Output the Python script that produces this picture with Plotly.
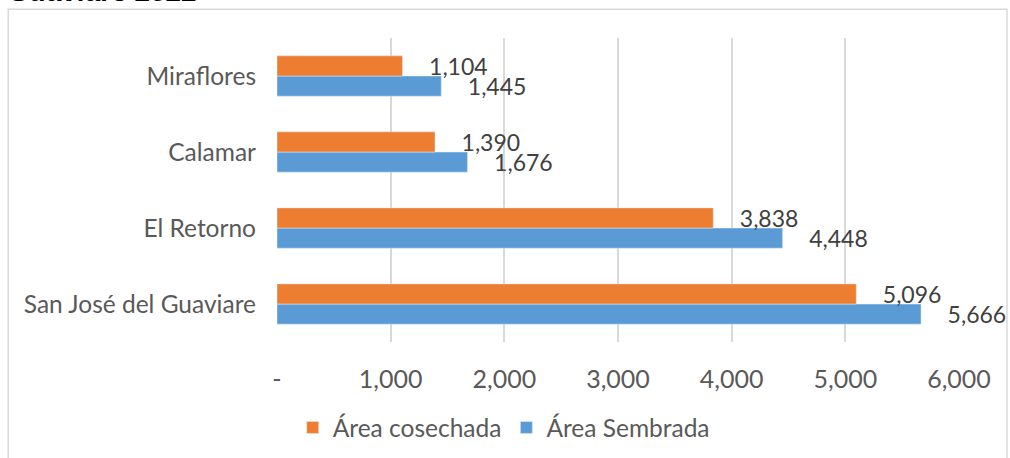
import plotly.graph_objects as go

# municipios (de abajo hacia arriba)
municipios = ["San José del Guaviare", "El Retorno", "Calamar", "Miraflores"]
area_sembrada = [5666, 4448, 1676, 1445]
area_cosechada = [5096, 3838, 1390, 1104]

tick_vals = [0, 1000, 2000, 3000, 4000, 5000, 6000]
tick_text = ["-", "1,000", "2,000", "3,000", "4,000", "5,000", "6,000"]

pad = "\u00a0\u00a0\u00a0\u00a0"

fig = go.Figure()
fig.add_trace(go.Bar(
    y=municipios, x=area_sembrada, orientation="h", name="Área Sembrada",
    marker_color="#5B9BD5",
    text=[pad + f"{v:,}" for v in area_sembrada], textposition="outside",
    textfont=dict(size=23, color="#404040"), cliponaxis=False, constraintext="none",
))
fig.add_trace(go.Bar(
    y=municipios, x=area_cosechada, orientation="h", name="Área cosechada",
    marker_color="#ED7D31",
    text=[pad + f"{v:,}" for v in area_cosechada], textposition="outside",
    textfont=dict(size=23, color="#404040"), cliponaxis=False, constraintext="none",
))

fig.update_layout(
    width=1010, height=458,
    margin=dict(l=277, r=51, t=38, b=114),
    paper_bgcolor="white", plot_bgcolor="white",
    font=dict(family="Lato", size=24, color="#595959"),
    barmode="group", bargap=0.47, bargroupgap=0,
    showlegend=True,
    legend=dict(orientation="h", traceorder="reversed", x=0.023, xanchor="left",
                yref="container", y=0.0665, yanchor="middle",
                font=dict(size=24.5, color="#595959")),
)
fig.update_xaxes(range=[0, 6000], tickvals=tick_vals, ticktext=tick_text,
                 showgrid=True, gridcolor="#d9d9d9", gridwidth=1.5, zeroline=False,
                 showline=False, ticks="", ticklabelstandoff=20, tickfont=dict(size=25))
fig.update_yaxes(showgrid=False, showline=False, ticks="", ticklabelstandoff=20, tickfont=dict(size=24.5))

# borde del grafico
fig.add_shape(type="rect", xref="paper", yref="paper", x0=-0.394, x1=1.0704, y0=-0.5, y1=1.0948,
              line=dict(color="#d9d9d9", width=1.5), fillcolor="rgba(0,0,0,0)", layer="below")

fig.add_annotation(text="<b><i>Guaviare 2022</i></b>", xref="paper", yref="paper",
                   x=-0.397, y=1.097, xanchor="left", yanchor="bottom", showarrow=False,
                   font=dict(family="Liberation Sans", size=28, color="#000000"))

fig.write_html("out.html", config={"displayModeBar": False},
               post_script="document.body.style.margin='0';")
